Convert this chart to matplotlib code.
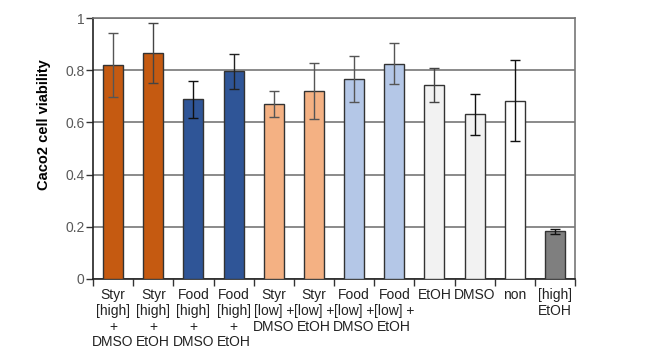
import numpy as np
import matplotlib.pyplot as plt
from matplotlib import rcParams

rcParams['font.family'] = 'Liberation Sans'

# Data
labels = ["Styr\n[high]\n+\nDMSO", "Styr\n[high]\n+\nEtOH", "Food\n[high]\n+\nDMSO", "Food\n[high]\n+\nEtOH",
          "Styr\n[low] +\nDMSO", "Styr\n[low] +\nEtOH", "Food\n[low] +\nDMSO", "Food\n[low] +\nEtOH",
          "EtOH", "DMSO", "non", "[high]\nEtOH"]
viability = [0.820, 0.868, 0.689, 0.796, 0.672, 0.721, 0.766, 0.826, 0.744, 0.631, 0.684, 0.182]
err = [0.124, 0.115, 0.072, 0.068, 0.050, 0.109, 0.089, 0.078, 0.064, 0.079, 0.155, 0.009]

colors = ["#C55A11", "#C55A11", "#2F5597", "#2F5597", "#F4B183", "#F4B183",
          "#B4C7E7", "#B4C7E7", "#F2F2F2", "#F2F2F2", "#FFFFFF", "#7F7F7F"]
err_colors = ["#555555", "#444444", "#111111", "#222222", "#555555", "#555555",
              "#555555", "#555555", "#444444", "#111111", "#111111", "#111111"]

fig = plt.figure(figsize=(6.51, 3.57), dpi=100)
ax = fig.add_axes([0.1429, 0.2193, 0.7404, 0.7294])

x = np.arange(len(viability))
ax.bar(x, viability, width=0.5, color=colors, edgecolor="#333333", linewidth=1.0, zorder=3)
for xi, v, e, c in zip(x, viability, err, err_colors):
    ax.errorbar(xi, v, yerr=e, fmt="none", ecolor=c, elinewidth=1.0, capsize=3.5, capthick=1.0, zorder=4)

ax.set_xlim(-0.5, len(viability) - 0.5)
ax.set_ylim(0, 1)
ax.set_yticks([0, 0.2, 0.4, 0.6, 0.8, 1])
ax.set_yticklabels(["0", "0.2", "0.4", "0.6", "0.8", "1"])
ax.yaxis.grid(True, color="#777777", linewidth=1.2, zorder=0)
ax.set_axisbelow(True)

ax.set_xticks(x)
ax.set_xticklabels(labels, fontsize=10, linespacing=1.15, color="#222222")
ax.set_xticks(np.arange(-0.5, len(viability)), minor=True)
ax.tick_params(axis="x", which="major", length=0, pad=7)
ax.tick_params(axis="x", which="minor", length=5, width=1.0, color="#333333")
ax.tick_params(axis="y", length=5, width=1.0, color="#333333", labelsize=10, labelcolor="#595959", pad=1)

for s in ["top", "right"]:
    ax.spines[s].set_color("#777777")
    ax.spines[s].set_linewidth(1.2)
ax.spines["left"].set_color("#222222")
ax.spines["bottom"].set_color("#222222")
ax.spines["left"].set_linewidth(1.2)
ax.spines["bottom"].set_linewidth(1.2)

ax.set_ylabel("Caco2 cell viability", fontsize=10.5, fontweight="bold")
ax.yaxis.set_label_coords(-0.088, 0.59)

fig.savefig("out.png", dpi=100)
